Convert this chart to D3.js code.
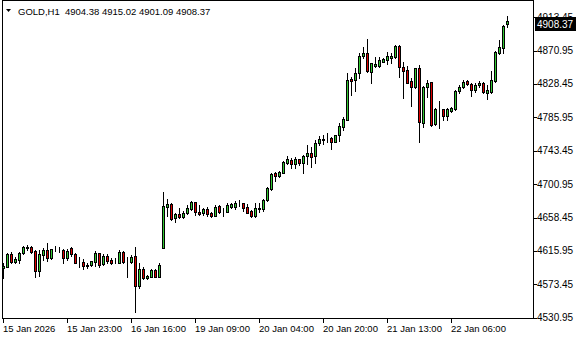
<!DOCTYPE html>
<html>
<head>
<meta charset="utf-8">
<script src="https://cdn.jsdelivr.net/npm/d3@7"></script>
<style>
  body { margin: 0; background: #fff; }
  text { font-family: "Liberation Sans", Arial, sans-serif; fill: #000; }
</style>
</head>
<body>
<div id="chart"></div>
<script>
// GOLD H1 candles (oldest first)
let opens = [4593.8,4595.9,4612.0,4602.2,4604.4,4613.7,4620.2,4620.5,4616.0,4590.4,
  4610.7,4617.1,4606.5,4618.2,4618.6,4617.1,4606.5,4619.2,4612.0,4601.6,
  4602.2,4597.3,4597.7,4602.2,4613.0,4599.3,4609.4,4604.4,4601.5,4600.9,
  4614.2,4602.8,4602.2,4609.4,4571.3,4592.5,4581.8,4583.1,4591.6,4583.1,
  4619.2,4672.2,4675.6,4657.4,4662.9,4658.7,4663.8,4669.2,4677.8,4665.4,
  4663.8,4668.9,4664.5,4660.7,4673.1,4666.8,4665.8,4672.2,4672.2,4677.6,
  4676.5,4672.2,4666.7,4660.7,4669.9,4668.9,4680.7,4694.3,4714.7,4711.2,
  4715.4,4727.4,4731.6,4726.1,4732.5,4727.4,4736.7,4740.9,4736.7,4752.8,
  4757.7,4758.1,4759.2,4754.9,4763.4,4774.0,4782.5,4834.3,4833.4,4841.9,
  4863.9,4867.4,4843.9,4851.6,4851.6,4856.7,4858.9,4861.8,4863.0,4877.0,
  4849.6,4846.1,4832.1,4824.1,4849.1,4779.1,4824.1,4830.5,4777.4,4796.3,
  4796.5,4787.6,4794.3,4796.1,4819.4,4824.9,4832.1,4828.3,4820.7,4827.0,
  4830.0,4817.2,4818.5,4832.1,4868.1,4874.5,4904.38];
let highs = [4600.2,4613.7,4614.2,4607.8,4615.0,4622.2,4623.5,4622.2,4617.1,4617.1,
  4619.2,4625.6,4618.4,4622.2,4621.3,4618.0,4618.0,4621.3,4613.7,4608.6,
  4605.2,4600.2,4603.5,4616.2,4613.7,4612.0,4612.0,4606.5,4606.5,4617.1,
  4616.0,4607.8,4610.7,4621.3,4600.2,4595.1,4585.3,4592.5,4592.5,4600.2,
  4691.3,4681.6,4677.3,4663.8,4670.1,4666.7,4674.3,4679.8,4678.5,4674.3,
  4670.9,4671.4,4665.1,4674.3,4674.3,4670.1,4676.5,4676.5,4679.4,4680.7,
  4677.3,4675.6,4668.0,4676.5,4676.5,4682.0,4696.9,4715.4,4716.7,4717.6,
  4730.3,4736.7,4733.8,4735.0,4733.3,4737.5,4750.7,4748.5,4757.1,4762.5,
  4763.4,4765.6,4760.5,4763.8,4779.1,4785.9,4842.7,4837.6,4848.3,4868.1,
  4875.8,4885.6,4855.4,4863.0,4863.0,4861.8,4868.6,4868.1,4877.9,4877.9,
  4855.9,4851.6,4835.6,4849.1,4852.5,4825.8,4833.4,4831.2,4797.4,4807.1,
  4796.9,4797.4,4798.7,4820.7,4827.0,4833.4,4833.4,4829.2,4829.2,4832.1,
  4831.2,4827.0,4844.9,4870.7,4884.3,4903.4,4915.02];
let lows = [4581.8,4595.1,4600.2,4600.9,4600.9,4612.0,4617.1,4613.0,4583.1,4584.0,
  4604.4,4603.5,4605.6,4616.2,4614.2,4600.9,4604.4,4609.4,4600.2,4595.1,
  4592.5,4593.8,4597.2,4596.8,4595.1,4598.1,4600.9,4599.3,4600.6,4600.2,
  4600.2,4583.1,4600.9,4538.6,4568.3,4579.8,4579.8,4582.7,4582.3,4583.1,
  4619.2,4660.3,4655.3,4653.1,4658.3,4658.3,4662.9,4668.0,4662.0,4662.0,
  4662.0,4660.7,4659.5,4660.3,4663.8,4660.7,4665.1,4670.1,4668.9,4673.1,
  4667.1,4663.8,4659.5,4659.5,4665.8,4666.7,4679.8,4693.4,4705.3,4710.4,
  4714.7,4726.1,4721.0,4721.0,4725.2,4714.7,4726.5,4722.3,4728.2,4750.7,
  4752.0,4754.9,4745.6,4754.5,4756.2,4769.8,4782.1,4814.3,4819.8,4835.6,
  4861.0,4843.9,4830.0,4850.3,4850.3,4855.9,4853.4,4854.6,4861.0,4837.6,
  4810.1,4829.2,4800.7,4823.7,4754.9,4774.0,4811.4,4775.2,4775.8,4771.9,
  4782.5,4782.5,4793.1,4795.2,4816.5,4822.8,4827.0,4813.0,4818.5,4824.9,
  4816.5,4808.8,4817.2,4831.2,4866.1,4868.1,4901.09];
let closes = [4596.8,4612.0,4602.2,4605.6,4613.7,4620.5,4620.8,4615.0,4590.4,4612.0,
  4617.1,4606.5,4618.0,4618.6,4618.0,4606.5,4616.2,4612.0,4600.9,4602.0,
  4596.8,4597.9,4603.1,4613.0,4598.1,4609.4,4603.5,4600.9,4602.1,4615.0,
  4602.2,4603.4,4608.6,4571.3,4592.5,4581.8,4584.0,4591.6,4583.1,4598.1,
  4673.1,4675.6,4656.2,4662.9,4658.7,4664.5,4670.1,4678.5,4665.1,4663.3,
  4669.2,4662.9,4660.7,4672.2,4665.8,4667.3,4674.3,4675.2,4677.3,4678.0,
  4670.9,4664.5,4660.7,4670.1,4670.3,4680.7,4695.6,4713.8,4711.2,4715.9,
  4729.4,4732.5,4726.1,4732.9,4727.4,4737.1,4740.9,4735.8,4753.6,4758.3,
  4758.1,4758.5,4754.9,4763.4,4774.9,4783.4,4833.4,4832.5,4841.9,4863.9,
  4868.1,4845.2,4854.6,4853.8,4858.9,4860.1,4863.9,4863.9,4877.0,4849.6,
  4845.2,4830.0,4824.1,4848.3,4779.6,4824.9,4829.2,4776.1,4796.5,4796.7,
  4787.6,4796.1,4797.4,4819.4,4824.9,4831.2,4828.3,4820.7,4827.0,4830.0,
  4818.5,4820.7,4833.4,4869.4,4875.0,4902.5,4908.37];

let priceTicks = [4530.95,4573.45,4615.95,4658.45,4700.95,4743.45,4785.95,4828.45,4870.95,4913.45];
let timeLabels = ["15 Jan 2026","15 Jan 23:00","16 Jan 16:00","19 Jan 09:00",
  "20 Jan 04:00","20 Jan 20:00","21 Jan 13:00","22 Jan 06:00"];
let timeBars = [0,16,32,48,64,80,96,112];
let titleText = "GOLD,H1\u00a0\u00a04904.38 4915.02 4901.09 4908.37";

let svgWidth = 580;
let svgHeight = 340;
let plot = {left: 2, right: 533, top: 0, bottom: 318};

let svg = d3.select("#chart")
  .append("svg")
  .attr("width", svgWidth)
  .attr("height", svgHeight)
  .attr("shape-rendering", "crispEdges");

// 4 px per bar
let xScale = d3.scaleLinear()
  .domain([-0.25, 132.75])
  .range([plot.left, plot.right + 1]);

let yScale = d3.scaleLinear()
  .domain([4530.95, 4913.45])
  .range([317.7, 17.1]);

let bars = d3.range(opens.length).map(i => ({
  i: i, o: opens[i], h: highs[i], l: lows[i], c: closes[i]
}));

// frame
svg.append("rect")
  .attr("x", plot.left + 0.5)
  .attr("y", plot.top + 0.5)
  .attr("width", plot.right - plot.left)
  .attr("height", plot.bottom - plot.top)
  .attr("fill", "none")
  .attr("stroke", "#000");

let candles = svg.append("g").selectAll("g")
  .data(bars)
  .enter()
  .append("g");

candles.append("line")
  .attr("x1", d => Math.round(xScale(d.i)) + 0.5)
  .attr("x2", d => Math.round(xScale(d.i)) + 0.5)
  .attr("y1", d => Math.round(yScale(d.h)))
  .attr("y2", d => Math.round(yScale(d.l)) + 1)
  .attr("stroke", "#000");

candles.append("rect")
  .attr("x", d => Math.round(xScale(d.i)) - 0.5)
  .attr("y", d => Math.round(yScale(Math.max(d.o, d.c))) + 0.5)
  .attr("width", 2)
  .attr("height", d => Math.max(0, Math.round(yScale(Math.min(d.o, d.c))) - Math.round(yScale(Math.max(d.o, d.c)))))
  .attr("fill", d => d.c >= d.o ? "#32c832" : "#dc0000")
  .attr("stroke", "#000");

// price axis
let rightAxis = svg.append("g");
rightAxis.selectAll("line")
  .data(priceTicks)
  .enter()
  .append("line")
  .attr("x1", plot.right + 1)
  .attr("x2", plot.right + 4)
  .attr("y1", d => Math.round(yScale(d)) + 0.5)
  .attr("y2", d => Math.round(yScale(d)) + 0.5)
  .attr("stroke", "#000");
rightAxis.selectAll("text")
  .data(priceTicks)
  .enter()
  .append("text")
  .attr("x", 537)
  .attr("y", d => yScale(d))
  .attr("dy", "0.35em")
  .attr("font-size", 10)
  .text(d => d.toFixed(2));

// current price box (covers most of the top tick label, as in MT4)
let last = closes[closes.length - 1];
svg.append("rect")
  .attr("x", 535)
  .attr("y", Math.round(yScale(last)) - 4)
  .attr("width", 41)
  .attr("height", 14)
  .attr("fill", "#000");
svg.append("text")
  .attr("x", 537)
  .attr("y", yScale(last) + 3)
  .attr("dy", "0.35em")
  .attr("font-size", 10)
  .style("fill", "#fff")
  .text(last.toFixed(2));

// time axis
let bottomAxis = svg.append("g");
bottomAxis.selectAll("line")
  .data(timeBars)
  .enter()
  .append("line")
  .attr("x1", d => Math.round(xScale(d)) + 0.5)
  .attr("x2", d => Math.round(xScale(d)) + 0.5)
  .attr("y1", plot.bottom + 1)
  .attr("y2", plot.bottom + 5)
  .attr("stroke", "#000");
bottomAxis.selectAll("text")
  .data(timeBars)
  .enter()
  .append("text")
  .attr("x", d => Math.round(xScale(d)))
  .attr("y", 332)
  .attr("font-size", 9.5)
  .text((d, k) => timeLabels[k]);

// title
svg.append("path")
  .attr("d", "M6,9 L11,9 L8.5,12 Z")
  .attr("fill", "#000")
  .attr("shape-rendering", "auto");
svg.append("text")
  .attr("x", 18)
  .attr("y", 15)
  .attr("font-size", 9.5)
  .text(titleText);
</script>
</body>
</html>
